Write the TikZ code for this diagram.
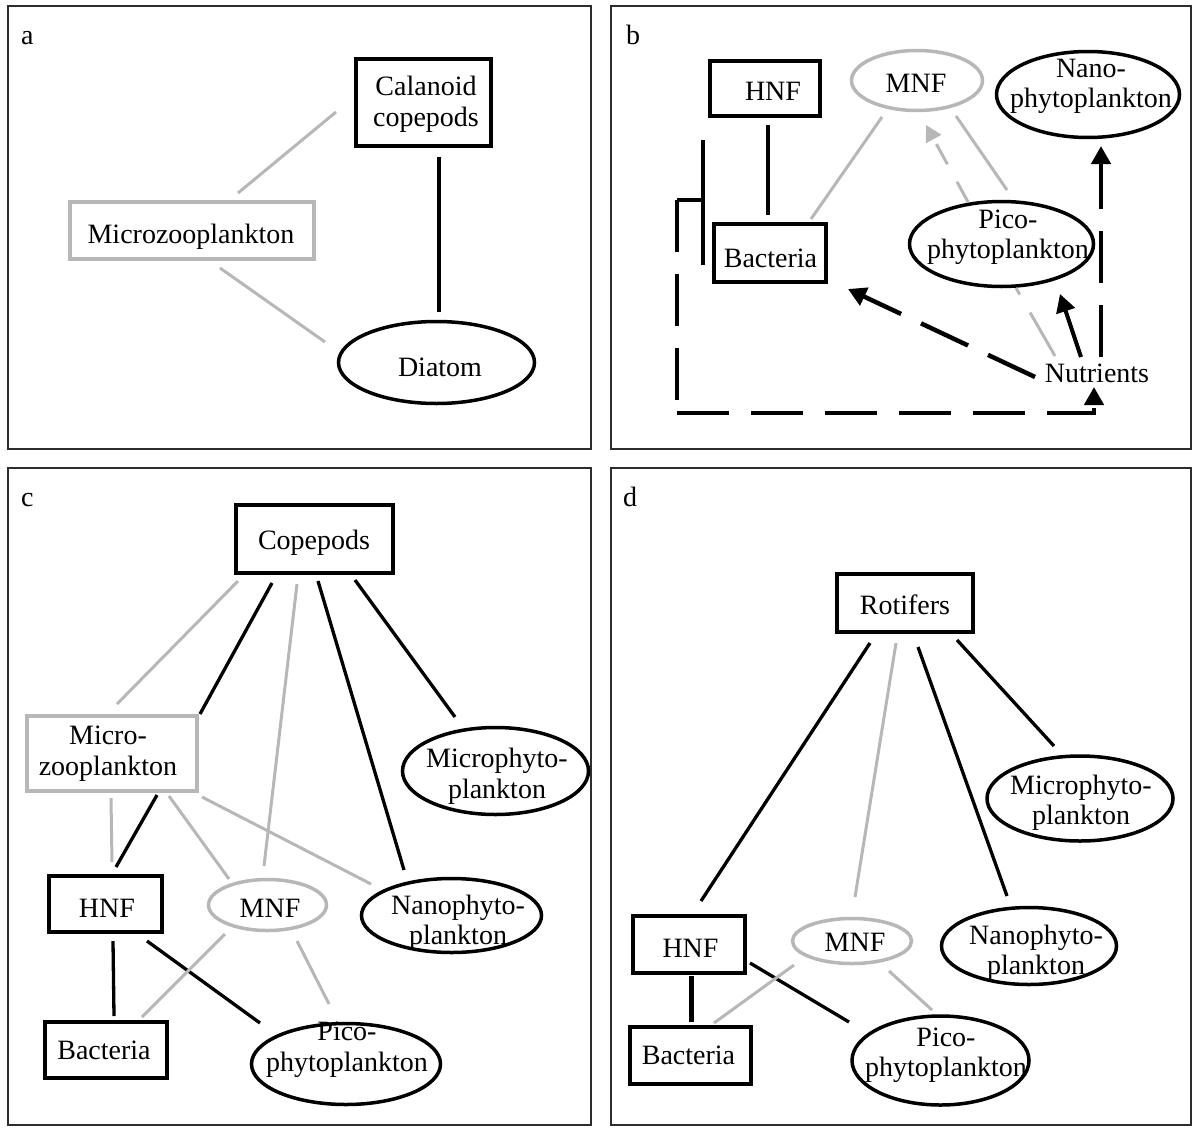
\documentclass[tikz,border=0pt]{standalone}
\usepackage{fontspec}
\setmainfont{Liberation Serif}
\usetikzlibrary{shapes.geometric,arrows.meta,calc}
\definecolor{lg}{RGB}{183,183,183}
\definecolor{fr}{RGB}{45,45,45}
\tikzset{
  bx/.style={draw, line width=4pt, fill=white, inner sep=0pt, rectangle},
  gbx/.style={bx, draw=lg},
  el/.style={ellipse, draw, line width=3.5pt, fill=white, inner sep=0pt},
  gel/.style={el, draw=lg},
  tx/.style={inner sep=0pt, align=center},
  bl/.style={line width=3.3pt},
  gln/.style={line width=3pt, draw=lg},
  dsh/.style={line width=4.5pt, dash pattern=on 52pt off 22pt},
  frm/.style={line width=1.2pt, draw=fr},
  tip/.style={-{Triangle[length=18pt,width=19pt]}},
  gtip/.style={-{Triangle[length=16pt,width=17pt]}},
}
\begin{document}
\begin{tikzpicture}[x=1pt,y=-1pt,font=\fontsize{28}{31}\selectfont]
\useasboundingbox (0,0) rectangle (1193,1127);
% frames
\draw[frm] (8,6) rectangle (591,449);
\draw[frm] (611,6) rectangle (1191,449);
\draw[frm] (8,468) rectangle (591,1125);
\draw[frm] (611,468) rectangle (1191,1125);
\node[tx,anchor=base west] (a-lbl) at (21,44) {a};
\node[tx,anchor=base west] (b-lbl) at (626,44) {b};
\node[tx,anchor=base west] (c-lbl) at (21,506) {c};
\node[tx,anchor=base west] (d-lbl) at (623,506) {d};

% ---------- panel a ----------
\node[bx, minimum width=135pt, minimum height=87pt] (a-cal) at (423.5,102.5) {};
\node[gbx, minimum width=244pt, minimum height=57pt] (a-mic) at (192,230.5) {};
\node[el, minimum width=196pt, minimum height=82pt] (a-dia) at (436.5,362.5) {};
\node[tx] (a-cal-t) at (426,104) {Calanoid\\copepods};
\node[tx,anchor=base] (a-mic-t) at (191,243) {Microzooplankton};
\node[tx,anchor=base] (a-dia-t) at (440,376) {Diatom};
\draw[gln] ($(a-cal)+(-87.5,9.5)$) -- ($(a-mic)+(46,-37.5)$);
\draw[gln] ($(a-mic)+(28,37.5)$) -- ($(a-dia)+(-111.5,-20.5)$);
\draw[bl] ($(a-cal)+(15.5,54.5)$) -- ($(a-dia)+(2.5,-50.5)$);

% ---------- panel b ----------
\node[bx, minimum width=110pt, minimum height=55pt] (b-hnf) at (765,88.5) {};
\node[gel, minimum width=131pt, minimum height=60pt] (b-mnf) at (917,80.5) {};
\node[el, minimum width=183pt, minimum height=86pt] (b-nan) at (1088,94.5) {};
\node[bx, minimum width=112pt, minimum height=58pt] (b-bac) at (770,253) {};
\node[el, minimum width=184pt, minimum height=85pt] (b-pic) at (1001.5,244) {};
\node[tx,anchor=base] (b-nut) at (1097,382) {Nutrients};
\node[tx,anchor=base] (b-hnf-t) at (773,100) {HNF};
\node[tx,anchor=base] (b-mnf-t) at (916,92) {MNF};
\node[tx,font=\fontsize{28}{30}\selectfont] (b-nan-t) at (1091,86) {Nano-\\phytoplankton};
\node[tx,anchor=base] (b-bac-t) at (770.5,267) {Bacteria};
\node[tx,font=\fontsize{28}{30}\selectfont] (b-pic-t) at (1008,237) {Pico-\\phytoplankton};
\draw[bl] ($(b-hnf)+(3,36.5)$) -- ($(b-bac)+(-2,-38)$);
\draw[gln] ($(b-mnf)+(-35,36.5)$) -- ($(b-bac)+(41,-34)$);
\draw[gln] ($(b-mnf)+(39,35.5)$) -- ($(b-pic)+(5.5,-54)$);
\draw[gln,gtip,dash pattern=on 23pt off 20pt] ($(b-pic)+(-33.5,-42)$) -- ($(b-mnf)+(9,44.5)$);
\draw[gln,dash pattern=on 50pt off 21pt] ($(b-nut.base)+(-42,-26)$) -- ($(b-pic)+(14.5,44)$);
\draw[bl,line width=4pt,tip] ($(b-nut.base)+(-16,-25)$) -- ($(b-pic)+(58.5,50)$);
\draw[dsh,tip] ($(b-nut.base)+(4,-25)$) -- ($(b-nan)+(13,51.5)$);
\draw[dsh,tip] ($(b-nut.base)+(-62,-5)$) -- ($(b-bac)+(78,36)$);
% bracket and return loop
\draw[bl,line width=4pt] ($(b-bac)+(-67,-113)$) -- ($(b-bac)+(-67,12)$);
\coordinate (b-c1) at ($(b-bac)+(-93,-53)$);
\coordinate (b-c2) at ($(b-bac)+(-93,160)$);
\draw[bl,line width=4pt] ($(b-bac)+(-67,-53)$) -- (b-c1);
\draw[dsh] (b-c1) -- (b-c2);
\draw[dsh,tip] (b-c2) -| ($(b-nut.base)+(-3,5)$);

% ---------- panel c ----------
\node[bx, minimum width=157pt, minimum height=68pt] (c-cop) at (314.5,539) {};
\node[gbx, minimum width=170pt, minimum height=75pt] (c-mic) at (112,753.5) {};
\node[el, minimum width=186pt, minimum height=87pt] (c-mph) at (495.5,771) {};
\node[bx, minimum width=113pt, minimum height=56pt] (c-hnf) at (105.5,904) {};
\node[gel, minimum width=118pt, minimum height=51pt] (c-mnf) at (267.5,905) {};
\node[el, minimum width=180pt, minimum height=74pt] (c-nph) at (451.5,915.5) {};
\node[bx, minimum width=122pt, minimum height=56pt] (c-bac) at (106,1050) {};
\node[el, minimum width=189pt, minimum height=81pt] (c-pic) at (346,1064) {};
\node[tx,anchor=base] (c-cop-t) at (314,549) {Copepods};
\node[tx] (c-mic-t) at (108,754) {Micro-\\zooplankton};
\node[tx] (c-mph-t) at (497,776) {Microphyto-\\plankton};
\node[tx,anchor=base] (c-hnf-t) at (107,917) {HNF};
\node[tx,anchor=base] (c-mnf-t) at (270,917) {MNF};
\node[tx,font=\fontsize{28}{30}\selectfont] (c-nph-t) at (458,923) {Nanophyto-\\plankton};
\node[tx,anchor=base] (c-bac-t) at (104,1059) {Bacteria};
\node[tx] (c-pic-t) at (347,1050) {Pico-\\phytoplankton};
\draw[gln] ($(c-cop)+(-76.5,42)$) -- ($(c-mic)+(5,-49.5)$);
\draw[bl] ($(c-cop)+(-42.5,44)$) -- ($(c-mic)+(88,-39.5)$);
\draw[gln] ($(c-cop)+(-17.5,45)$) -- ($(c-mnf)+(-3.5,-39)$);
\draw[bl] ($(c-cop)+(3.5,42)$) -- ($(c-nph)+(-47.5,-45.5)$);
\draw[bl] ($(c-cop)+(40.5,41)$) -- ($(c-mph)+(-40.5,-54)$);
\draw[gln] ($(c-mic)+(-1,44.5)$) -- ($(c-hnf)+(6.5,-42)$);
\draw[bl] ($(c-mic)+(45,41.5)$) -- ($(c-hnf)+(10.5,-37)$);
\draw[gln] ($(c-mic)+(57,42.5)$) -- ($(c-mnf)+(-38.5,-26)$);
\draw[gln] ($(c-mic)+(90,43.5)$) -- ($(c-nph)+(-80.5,-31.5)$);
\draw[bl] ($(c-hnf)+(7.5,37)$) -- ($(c-bac)+(8,-34)$);
\draw[bl] ($(c-hnf)+(41.5,37)$) -- ($(c-pic)+(-86,-41)$);
\draw[gln] ($(c-mnf)+(-42.5,29)$) -- ($(c-bac)+(36,-33)$);
\draw[gln] ($(c-mnf)+(29.5,36)$) -- ($(c-pic)+(-17,-60)$);

% ---------- panel d ----------
\node[bx, minimum width=136pt, minimum height=58pt] (d-rot) at (905,603) {};
\node[el, minimum width=186pt, minimum height=85pt] (d-mph) at (1080,798.5) {};
\node[bx, minimum width=112pt, minimum height=57pt] (d-hnf) at (689,944.5) {};
\node[gel, minimum width=119pt, minimum height=45pt] (d-mnf) at (852,941) {};
\node[el, minimum width=175pt, minimum height=77pt] (d-nph) at (1029,946) {};
\node[bx, minimum width=121pt, minimum height=57pt] (d-bac) at (690.5,1055.5) {};
\node[el, minimum width=177pt, minimum height=89pt] (d-pic) at (940.5,1060.5) {};
\node[tx,anchor=base] (d-rot-t) at (905,614) {Rotifers};
\node[tx,font=\fontsize{28}{30}\selectfont] (d-mph-t) at (1081,803) {Microphyto-\\plankton};
\node[tx,anchor=base] (d-hnf-t) at (690.5,957) {HNF};
\node[tx,anchor=base] (d-mnf-t) at (855,951) {MNF};
\node[tx,font=\fontsize{28}{30}\selectfont] (d-nph-t) at (1036,952.5) {Nanophyto-\\plankton};
\node[tx,anchor=base] (d-bac-t) at (688.5,1064) {Bacteria};
\node[tx,font=\fontsize{28}{30}\selectfont] (d-pic-t) at (946,1055) {Pico-\\phytoplankton};
\draw[bl] ($(d-rot)+(-35,40)$) -- ($(d-hnf)+(12,-43.5)$);
\draw[gln] ($(d-rot)+(-9,40)$) -- ($(d-mnf)+(3,-44)$);
\draw[bl] ($(d-rot)+(13,44)$) -- ($(d-nph)+(-22,-50)$);
\draw[bl] ($(d-rot)+(52,37)$) -- ($(d-mph)+(-26,-52.5)$);
\draw[bl,line width=5pt] ($(d-hnf)+(2,31.5)$) -- ($(d-bac)+(0.5,-33.5)$);
\draw[bl] ($(d-hnf)+(61,18.5)$) -- ($(d-pic)+(-91.5,-38.5)$);
\draw[gln] ($(d-mnf)+(-58,24)$) -- ($(d-bac)+(23.5,-32.5)$);
\draw[gln] ($(d-mnf)+(37,30)$) -- ($(d-pic)+(-8.5,-50.5)$);
\end{tikzpicture}
\end{document}
